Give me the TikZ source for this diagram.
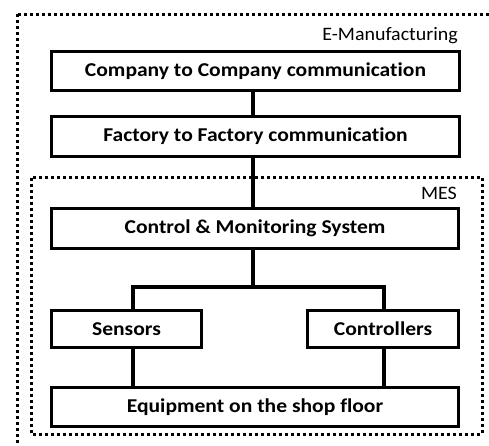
\documentclass[tikz,border=0pt]{standalone}
\usepackage{fontspec}
\setmainfont{Carlito}[Ligatures=NoCommon]
\newfontfamily\boxfont{Carlito}[FakeStretch=1.1, Ligatures=NoCommon]
\newfontfamily\tagfont{Carlito}[FakeStretch=1.05, Ligatures=NoCommon]
\tikzset{
  block/.style={draw=black, line width=3.3pt, fill=white, inner sep=0pt,
    font=\boxfont\bfseries\fontsize{19.6}{21}\selectfont},
  link/.style={line width=3.3pt},
  frame/.style={line width=3pt, dash pattern=on 3pt off 3pt},
  tag/.style={inner sep=0pt, font=\tagfont\fontsize{19}{21}\selectfont}
}
\begin{document}
\begin{tikzpicture}[x=1pt, y=-1pt]
\useasboundingbox (0,0) rectangle (489,445);
\clip (0,0) rectangle (489,445);

% dotted frames: enterprise level and MES level
\draw[frame] (17.5,14) rectangle (500,460);
\draw[frame] (31.5,177.5) rectangle (482,434);
\node[tag, anchor=base east] (em) at (458,40) {E-Manufacturing};
\node[tag, anchor=base east] (mes) at (457,199) {MES};

% blocks
\node[block, minimum width=408pt, minimum height=39pt] (c2c) at (255.5,71) {Company to Company communication};
\node[block, minimum width=408pt, minimum height=40pt] (f2f) at (255.5,136.5) {Factory to Factory communication};
\node[block, minimum width=407pt, minimum height=40pt] (cms) at (255,228.5) {Control \& Monitoring System};
\node[block, minimum width=150pt, minimum height=37pt] (sens) at (126.5,329) {Sensors};
\node[block, minimum width=151pt, minimum height=37pt] (ctl) at (383,329) {Controllers};
\node[block, minimum width=407pt, minimum height=39pt] (equip) at (255,407) {Equipment on the shop floor};

% branch points
\coordinate (bl) at (133,287);
\coordinate (br) at (384,287);
\coordinate (bm) at (253,287);

% connectors
\draw[link] (c2c.south -| bm) -- (f2f.north -| bm);
\draw[link] (f2f.south -| bm) -- (cms.north -| bm);
\draw[link] (cms.south -| bm) -- (bm);
\draw[link, line cap=rect] (sens.north -| bl) -- (bl) -- (br) -- (ctl.north -| br);
\draw[link] (sens.south -| bl) -- (equip.north -| bl);
\draw[link] (ctl.south -| br) -- (equip.north -| br);
\end{tikzpicture}
\end{document}
